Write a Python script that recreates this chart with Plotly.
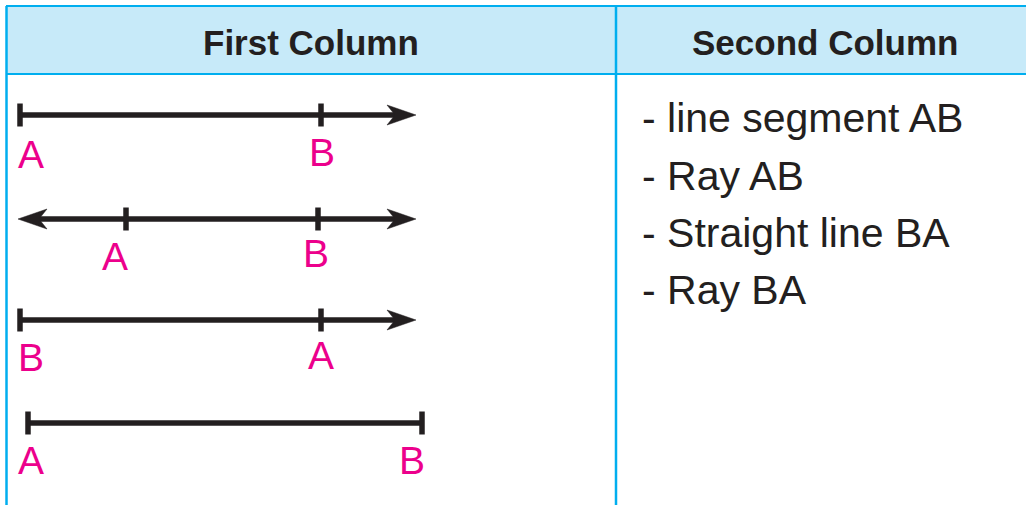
import plotly.graph_objects as go

W, H = 1026, 505

# ---- content ----
headers = ["First Column", "Second Column"]
descriptions = ["- line segment AB", "- Ray AB", "- Straight line BA", "- Ray BA"]

# each figure row: y of the line, start/end of the drawn line, arrow ends, marked points
row_y = [115, 219, 320, 423]
line_start = [20, 18, 20, 28]
line_end = [416, 416, 416, 422]
arrow_left = [False, True, False, False]
arrow_right = [True, True, True, False]
point_x = [[20, 321], [126, 318], [20, 321], [28, 422]]
point_names = [["A", "B"], ["A", "B"], ["B", "A"], ["A", "B"]]
label_x = [[31, 322], [115, 316], [31, 321], [31, 412]]
label_y = [[154, 152], [256, 253], [357, 355], [460, 460]]

desc_y = [118, 176, 233, 290]

BLUE = "#00aeef"
HEAD_FILL = "#c7eaf9"
INK = "#231f20"
MAGENTA = "#ec008c"
FONT = "Liberation Sans, Arial, Helvetica, sans-serif"

fig = go.Figure()
shapes = []
annotations = []

# header band and borders
shapes.append(dict(type="rect", xref="x", yref="y", x0=6, x1=W + 2, y0=6, y1=74,
                   fillcolor=HEAD_FILL, line=dict(width=0), layer="below"))
shapes.append(dict(type="line", xref="x", yref="y", x0=6, x1=W + 2, y0=6, y1=6,
                   line=dict(color=BLUE, width=2)))
shapes.append(dict(type="line", xref="x", yref="y", x0=6, x1=W + 2, y0=74, y1=74,
                   line=dict(color=BLUE, width=2)))
shapes.append(dict(type="line", xref="x", yref="y", x0=6.5, x1=6.5, y0=6, y1=H + 2,
                   line=dict(color=BLUE, width=2.5)))
shapes.append(dict(type="line", xref="x", yref="y", x0=616, x1=616, y0=6, y1=H + 2,
                   line=dict(color=BLUE, width=2.5)))

# header texts
for txt, cx in zip(headers, [311, 825]):
    annotations.append(dict(x=cx, y=42, xref="x", yref="y", text=f"<b>{txt}</b>",
                            showarrow=False, xanchor="center", yanchor="middle",
                            font=dict(family=FONT, size=35, color=INK)))

# descriptions
for txt, y in zip(descriptions, desc_y):
    annotations.append(dict(x=640, y=y, xref="x", yref="y", text=txt,
                            showarrow=False, xanchor="left", yanchor="middle",
                            font=dict(family=FONT, size=41, color=INK)))

AL, AH, NOTCH = 29, 10, 21  # arrowhead length, half height, notch depth


def head(tip, y, direction):
    b = tip - direction * AL
    n = tip - direction * NOTCH
    return (f"M {tip},{y} L {b},{y - AH} L {n},{y} L {b},{y + AH} Z")


for i, y in enumerate(row_y):
    xs = line_start[i] + (10 if arrow_left[i] else 0)
    xe = line_end[i] - (10 if arrow_right[i] else 0)
    fig.add_trace(go.Scatter(x=[xs, xe], y=[y, y], mode="lines",
                             line=dict(color=INK, width=5.5), hoverinfo="skip",
                             showlegend=False))
    if arrow_left[i]:
        shapes.append(dict(type="path", xref="x", yref="y", path=head(line_start[i], y, -1),
                           fillcolor=INK, line=dict(color=INK, width=0.5)))
    if arrow_right[i]:
        shapes.append(dict(type="path", xref="x", yref="y", path=head(line_end[i], y, 1),
                           fillcolor=INK, line=dict(color=INK, width=0.5)))
    for px in point_x[i]:
        shapes.append(dict(type="line", xref="x", yref="y", x0=px, x1=px,
                           y0=y - 11.5, y1=y + 11.5, line=dict(color=INK, width=5.5)))
    for name, lx, ly in zip(point_names[i], label_x[i], label_y[i]):
        annotations.append(dict(x=lx, y=ly, xref="x", yref="y", text=name,
                                showarrow=False, xanchor="center", yanchor="middle",
                                font=dict(family=FONT, size=39, color=MAGENTA)))

fig.update_layout(
    width=W, height=H, margin=dict(l=0, r=0, t=0, b=0),
    paper_bgcolor="white", plot_bgcolor="white",
    shapes=shapes, annotations=annotations, showlegend=False,
    xaxis=dict(range=[0, W], visible=False, fixedrange=True),
    yaxis=dict(range=[H, 0], visible=False, fixedrange=True),
)

fig.write_html("out.html", config={"displayModeBar": False},
               post_script="document.body.style.margin='0';document.body.style.overflow='hidden';")
